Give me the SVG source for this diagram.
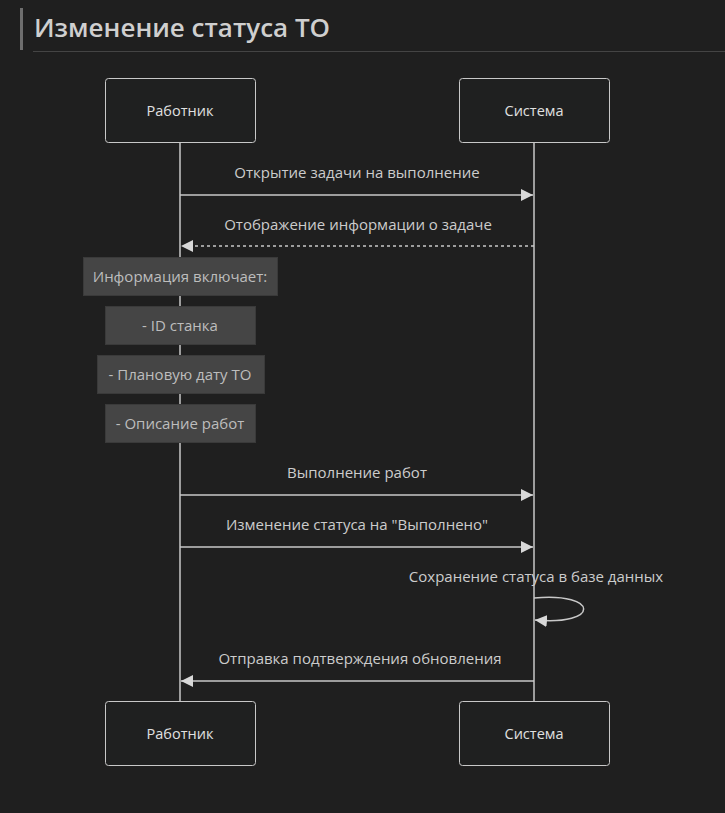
<svg xmlns="http://www.w3.org/2000/svg" width="725" height="813" viewBox="0 0 725 813">
<defs>
<style>
.bg{fill:#1f1f1f}
.actor rect{fill:#1f2020;stroke:#c8c8c8;stroke-width:1}
.t{font-family:"Open Sans","DejaVu Sans",sans-serif;font-size:15px;fill:#cccccc;text-anchor:middle}
.at{font-family:"Open Sans","DejaVu Sans",sans-serif;font-size:14.5px;fill:#e0e0e0;text-anchor:middle}
.life{stroke:#c8c8c8;stroke-width:1.5}
.msg{stroke:#c8c8c8;stroke-width:1.5;fill:none}
.dash{stroke-dasharray:3,3}
.note rect{fill:#454545;stroke:#3a3a3a;stroke-width:1}
.nt{font-family:"Open Sans","DejaVu Sans",sans-serif;font-size:15px;fill:#bdbdbd;text-anchor:middle}
</style>
<marker id="ah" markerWidth="12" markerHeight="12" refX="12" refY="6" orient="auto" markerUnits="userSpaceOnUse">
<path d="M0,0 L12,6 L0,12 z" fill="#d8d8d8"/>
</marker>
</defs>
<rect class="bg" x="0" y="0" width="725" height="813"/>
<g id="title">
<rect x="20" y="8" width="3" height="42" fill="#6e6e6e"/>
<line x1="33" y1="51.5" x2="725" y2="51.5" stroke="#444" stroke-width="1"/>
<text x="34" y="37" font-family="'Open Sans','DejaVu Sans',sans-serif" font-size="26" font-weight="600" fill="#cfcfcf">Изменение статуса ТО</text>
</g>
<g id="lifelines">
<line class="life" x1="180" y1="143" x2="180" y2="701"/>
<line class="life" x1="534" y1="143" x2="534" y2="701"/>
</g>
<g id="actor-worker-top" class="actor">
<rect x="105.5" y="78.5" width="150" height="64" rx="3"/>
<text class="at" x="180" y="116">Работник</text>
</g>
<g id="actor-system-top" class="actor">
<rect x="459.5" y="78.5" width="150" height="64" rx="3"/>
<text class="at" x="534" y="116">Система</text>
</g>
<g id="actor-worker-bottom" class="actor">
<rect x="105.5" y="701.5" width="150" height="64" rx="3"/>
<text class="at" x="180" y="739">Работник</text>
</g>
<g id="actor-system-bottom" class="actor">
<rect x="459.5" y="701.5" width="150" height="64" rx="3"/>
<text class="at" x="534" y="739">Система</text>
</g>
<g id="note1" class="note">
<rect x="83.5" y="257.5" width="194" height="38"/>
<text class="nt" x="180" y="282">Информация включает:</text>
</g>
<g id="note2" class="note">
<rect x="105.5" y="306.5" width="150" height="38"/>
<text class="nt" x="180" y="331">- ID станка</text>
</g>
<g id="note3" class="note">
<rect x="97.5" y="355.5" width="167" height="38"/>
<text class="nt" x="180" y="380">- Плановую дату ТО</text>
</g>
<g id="note4" class="note">
<rect x="105.5" y="404.5" width="150" height="38"/>
<text class="nt" x="180" y="429">- Описание работ</text>
</g>
<g id="connectors">
<line class="msg" x1="180" y1="195" x2="533" y2="195" marker-end="url(#ah)"/>
<text class="t" x="357" y="178">Открытие задачи на выполнение</text>
<line class="msg dash" x1="534" y1="246" x2="181" y2="246" marker-end="url(#ah)"/>
<text class="t" x="358" y="230">Отображение информации о задаче</text>
<line class="msg" x1="180" y1="495" x2="533" y2="495" marker-end="url(#ah)"/>
<text class="t" x="357" y="478">Выполнение работ</text>
<line class="msg" x1="180" y1="547" x2="533" y2="547" marker-end="url(#ah)"/>
<text class="t" x="357" y="530">Изменение статуса на "Выполнено"</text>
<path class="msg" d="M534,598 C600,592 600,626 535,620" marker-end="url(#ah)"/>
<text class="t" x="536" y="582">Сохранение статуса в базе данных</text>
<line class="msg" x1="534" y1="681" x2="181" y2="681" marker-end="url(#ah)"/>
<text class="t" x="360" y="664">Отправка подтверждения обновления</text>
</g>
</svg>
